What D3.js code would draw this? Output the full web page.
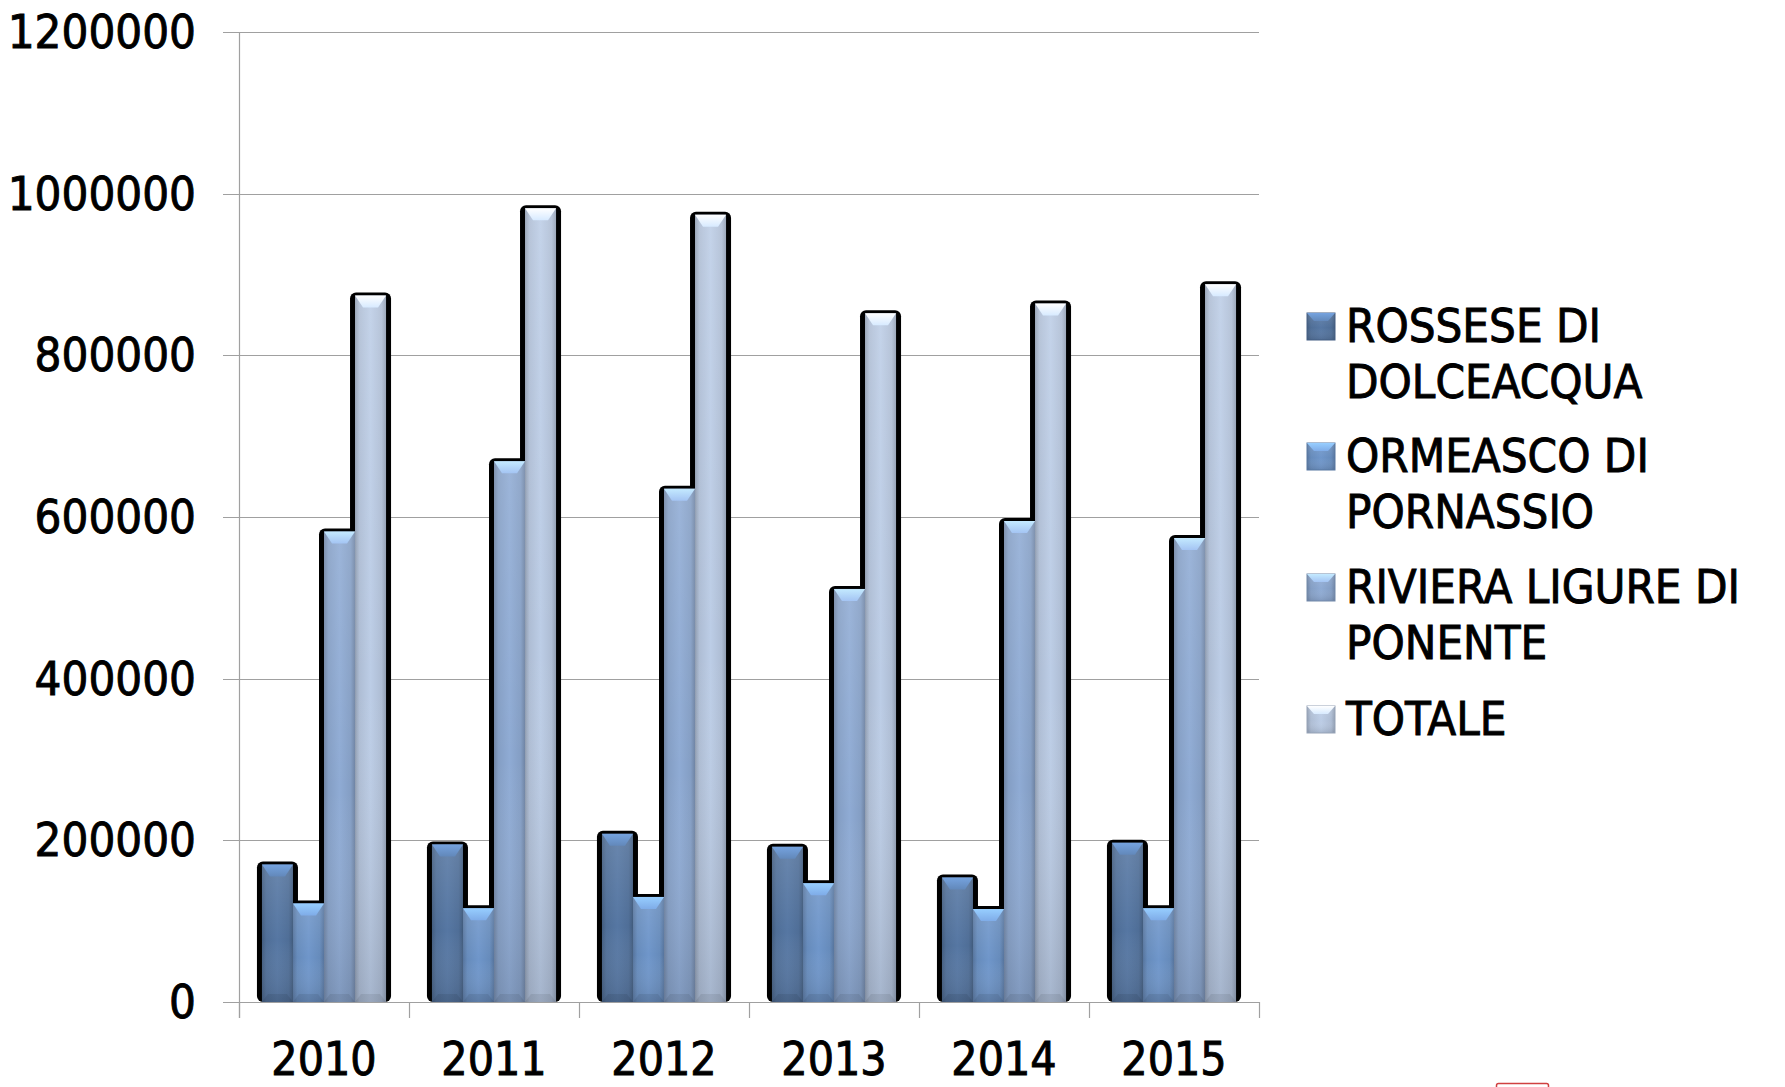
<!DOCTYPE html>
<html>
<head>
<meta charset="utf-8">
<script src="https://cdn.jsdelivr.net/npm/d3@7"></script>
<style>
  html, body { margin: 0; padding: 0; background: #ffffff; }
  svg { display: block; }
  .lbl { font-family: "DejaVu Sans Condensed", "DejaVu Sans", sans-serif; font-stretch: condensed; fill: #000; stroke: #000; stroke-width: 0.9px; }
</style>
</head>
<body>
<svg id="chart" width="1785" height="1087"></svg>
<script>
// ---- data ----
const years = ["2010", "2011", "2012", "2013", "2014", "2015"];
const seriesNames = ["ROSSESE DI DOLCEACQUA", "ORMEASCO DI PORNASSIO", "RIVIERA LIGURE DI PONENTE", "TOTALE"];
const legendLines = [["ROSSESE DI", "DOLCEACQUA"], ["ORMEASCO DI", "PORNASSIO"], ["RIVIERA LIGURE DI", "PONENTE"], ["TOTALE"]];
const rossese = [170000, 195000, 208000, 192000, 154000, 197000];
const ormeasco = [122000, 116000, 130000, 147000, 115000, 116000];
const riviera = [582000, 669000, 635000, 511000, 595000, 574000];
const totale = [874000, 982000, 974000, 852000, 864000, 888000];
const yTicks = [0, 200000, 400000, 600000, 800000, 1000000, 1200000];

const seriesValues = [rossese, ormeasco, riviera, totale];
const baseColors = ["#52729c", "#6a90c2", "#89a4cb", "#b4c4dc"];

// ---- layout ----
const svg = d3.select("#chart");
svg.append("rect").attr("width", 1785).attr("height", 1087).attr("fill", "#fff");

const plotLeft = 239, plotRight = 1259, plotTop = 32, plotBottom = 1002;
const y = d3.scaleLinear().domain([0, 1200000]).range([plotBottom, plotTop]);
const x0 = d3.scaleBand().domain(years).range([plotLeft, plotRight]).paddingInner(0.27).paddingOuter(0.135);
const x1 = d3.scaleBand().domain(d3.range(seriesNames.length)).range([0, x0.bandwidth()]);

// ---- gradients ----
const defs = svg.append("defs");
baseColors.forEach((c, i) => {
  const base = d3.color(c);
  const g = defs.append("linearGradient").attr("id", "hg" + i)
    .attr("x1", "0").attr("x2", "1").attr("y1", "0").attr("y2", "0");
  g.append("stop").attr("offset", "0%").attr("stop-color", base.darker(0.6));
  g.append("stop").attr("offset", "14%").attr("stop-color", base.darker(0.1));
  g.append("stop").attr("offset", "50%").attr("stop-color", base.brighter(0.12));
  g.append("stop").attr("offset", "86%").attr("stop-color", base.darker(0.1));
  g.append("stop").attr("offset", "100%").attr("stop-color", base.darker(0.6));
  const b = defs.append("linearGradient").attr("id", "bev" + i)
    .attr("x1", "0").attr("x2", "0").attr("y1", "0").attr("y2", "1");
  b.append("stop").attr("offset", "0%").attr("stop-color", base.brighter(1.0));
  b.append("stop").attr("offset", "100%").attr("stop-color", base.brighter(0.5));
});
const vg = defs.append("linearGradient").attr("id", "vshade")
  .attr("x1", "0").attr("x2", "0").attr("y1", "0").attr("y2", "1");
vg.append("stop").attr("offset", "0%").attr("stop-color", "#ffffff").attr("stop-opacity", 0.12);
vg.append("stop").attr("offset", "55%").attr("stop-color", "#ffffff").attr("stop-opacity", 0);
vg.append("stop").attr("offset", "100%").attr("stop-color", "#303848").attr("stop-opacity", 0.16);

// ---- grid ----
const gridG = svg.append("g");
gridG.selectAll("line.grid").data(yTicks).join("line")
  .attr("x1", plotLeft - 16).attr("x2", plotRight)
  .attr("y1", d => Math.round(y(d)) + 0.5).attr("y2", d => Math.round(y(d)) + 0.5)
  .attr("stroke", "#a0a0a0").attr("stroke-width", 1.2);
gridG.append("line").attr("x1", plotLeft + 0.5).attr("x2", plotLeft + 0.5)
  .attr("y1", plotTop).attr("y2", plotBottom + 16).attr("stroke", "#a0a0a0").attr("stroke-width", 1.2);
const catBounds = years.map(d => x0(d) - x0.step() * 0.135).concat([plotRight]);
gridG.selectAll("line.ct").data(catBounds).join("line")
  .attr("x1", d => Math.round(d) + 0.5).attr("x2", d => Math.round(d) + 0.5)
  .attr("y1", plotBottom).attr("y2", plotBottom + 16)
  .attr("stroke", "#a0a0a0").attr("stroke-width", 1.2);

// ---- y labels ----
svg.append("g").selectAll("text").data(yTicks).join("text")
  .attr("class", "lbl")
  .attr("x", 196).attr("y", d => y(d) + 16)
  .attr("text-anchor", "end").attr("font-size", 47)
  .text(d => d3.format("d")(d));

// ---- x labels ----
svg.append("g").selectAll("text").data(years).join("text")
  .attr("class", "lbl")
  .attr("x", d => x0(d) + x0.bandwidth() / 2).attr("y", 1075)
  .attr("text-anchor", "middle").attr("font-size", 46)
  .text(d => d);

// ---- bars ----
const bars = [];
years.forEach((yr, j) => {
  seriesValues.forEach((vals, i) => {
    bars.push({ year: yr, s: i, v: vals[j] });
  });
});
const bx = d => x0(d.year) + x1(d.s);
const bw = x1.bandwidth();

const shadowG = svg.append("g");
shadowG.selectAll("rect").data(bars).join("rect")
  .attr("x", d => bx(d) - 5).attr("y", d => y(d.v) - 3)
  .attr("width", bw + 10).attr("height", d => plotBottom - y(d.v) + 3)
  .attr("rx", 6).attr("fill", "#000");

const barG = svg.append("g");
barG.selectAll("rect.body").data(bars).join("rect")
  .attr("class", "body")
  .attr("x", d => bx(d)).attr("y", d => y(d.v))
  .attr("width", bw).attr("height", d => plotBottom - y(d.v))
  .attr("fill", d => `url(#hg${d.s})`);
barG.selectAll("rect.shade").data(bars).join("rect")
  .attr("class", "shade")
  .attr("x", d => bx(d)).attr("y", d => y(d.v))
  .attr("width", bw).attr("height", d => plotBottom - y(d.v))
  .attr("fill", "url(#vshade)");
barG.selectAll("path.bevel").data(bars).join("path")
  .attr("class", "bevel")
  .attr("d", d => {
    const x = bx(d), t = y(d.v);
    return `M${x},${t}L${x + bw},${t}L${x + bw - 8},${t + 12}L${x + 8},${t + 12}Z`;
  })
  .attr("fill", d => `url(#bev${d.s})`);
barG.selectAll("path.bbev").data(bars).join("path")
  .attr("class", "bbev")
  .attr("d", d => {
    const x = bx(d);
    return `M${x},${plotBottom}L${x + bw},${plotBottom}L${x + bw - 6},${plotBottom - 8}L${x + 6},${plotBottom - 8}Z`;
  })
  .attr("fill", "#000").attr("opacity", 0.08);

// ---- legend ----
const legBase = [342, 472, 603, 735];
const leg = svg.append("g");
legendLines.forEach((lines, i) => {
  const by = legBase[i];
  leg.append("rect").attr("x", 1307).attr("y", by - 29).attr("width", 28).attr("height", 27)
    .attr("fill", `url(#hg${i})`);
  leg.append("rect").attr("x", 1307).attr("y", by - 29).attr("width", 28).attr("height", 27)
    .attr("fill", "url(#vshade)").attr("stroke", d3.color(baseColors[i]).darker(0.5)).attr("stroke-width", 1);
  leg.append("path")
    .attr("d", `M1307,${by - 29}L1335,${by - 29}L1328,${by - 21}L1314,${by - 21}Z`)
    .attr("fill", `url(#bev${i})`);
  const t = leg.append("text").attr("class", "lbl").attr("font-size", 47);
  lines.forEach((ln, k) => {
    t.append("tspan").attr("x", 1346).attr("y", by + k * 56).text(ln);
  });
});

// small cut-off red frame at bottom
svg.append("rect").attr("x", 1496.5).attr("y", 1083.5).attr("width", 52).attr("height", 20)
  .attr("rx", 2).attr("fill", "none").attr("stroke", "#d04040").attr("stroke-width", 1.5);
</script>
</body>
</html>
